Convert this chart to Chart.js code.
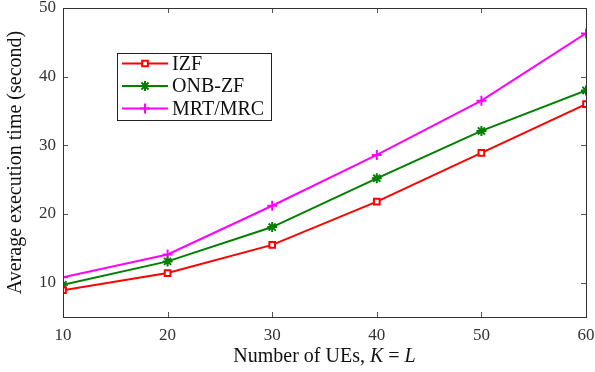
<!DOCTYPE html>
<html>
<head>
<meta charset="utf-8">
<script src="https://cdn.jsdelivr.net/npm/chart.js@4.4.1/dist/chart.umd.min.js"></script>
<style>
  html, body { margin: 0; padding: 0; background: #fff; }
  #wrap { width: 595px; height: 372px; }
</style>
</head>
<body>
<div id="wrap"><canvas id="timeChart"></canvas></div>
<script>
// Data
const users = [10, 20, 30, 40, 50, 60];
const izf = [8.9, 11.4, 15.5, 21.8, 28.9, 36.0];
const onbZf = [9.7, 13.1, 18.1, 25.2, 32.1, 38.0];
const mrtMrc = [10.8, 14.1, 21.2, 28.6, 36.5, 46.3];
const yTicks = [10, 20, 30, 40, 50];

const serif = "'Liberation Serif', 'DejaVu Serif', serif";

const toPoints = arr => arr.map((v, i) => ({ x: users[i], y: v }));

// inward ticks on all four sides + frame
const frameTicks = {
    id: "frameTicks",
    afterDraw(chart) {
        const { ctx, chartArea: a, scales } = chart;
        ctx.save();
        ctx.strokeStyle = "#555";
        ctx.lineWidth = 1;
        ctx.beginPath();
        users.forEach(v => {
            const x = Math.round(scales.x.getPixelForValue(v)) + 0.5;
            ctx.moveTo(x, a.bottom); ctx.lineTo(x, a.bottom - 5);
            ctx.moveTo(x, a.top); ctx.lineTo(x, a.top + 5);
        });
        yTicks.forEach(v => {
            const y = Math.round(scales.y.getPixelForValue(v)) + 0.5;
            ctx.moveTo(a.left, y); ctx.lineTo(a.left + 5, y);
            ctx.moveTo(a.right, y); ctx.lineTo(a.right - 5, y);
        });
        ctx.stroke();
        ctx.strokeStyle = "#333";
        ctx.strokeRect(a.left + 0.5, a.top + 0.5, a.right - a.left, a.bottom - a.top);

        // x axis title with italic K and L
        ctx.fillStyle = "#111";
        ctx.textBaseline = "alphabetic";
        const parts = [
            ["Number of UEs, ", "20px " + serif],
            ["K", "italic 20px " + serif],
            [" = ", "20px " + serif],
            ["L", "italic 20px " + serif]
        ];
        let total = 0;
        parts.forEach(p => { ctx.font = p[1]; total += ctx.measureText(p[0]).width; });
        let x = (a.left + a.right) / 2 - total / 2;
        parts.forEach(p => {
            ctx.font = p[1];
            ctx.fillText(p[0], x, 362);
            x += ctx.measureText(p[0]).width;
        });
        ctx.restore();
    }
};

// boxed legend inside the plot
const boxLegend = {
    id: "boxLegend",
    afterDatasetsDraw(chart) {
        const { ctx } = chart;
        const left = 117, top = 53, w = 154, h = 67;
        ctx.save();
        ctx.fillStyle = "#fff";
        ctx.fillRect(left, top, w, h);
        ctx.strokeStyle = "#222";
        ctx.lineWidth = 1;
        ctx.strokeRect(left + 0.5, top + 0.5, w, h);
        chart.data.datasets.forEach((ds, i) => {
            const y = top + 10.5 + i * 22.5;
            ctx.strokeStyle = ds.borderColor;
            ctx.lineWidth = 2;
            ctx.beginPath();
            ctx.moveTo(122, y); ctx.lineTo(168, y);
            ctx.stroke();
            Chart.helpers.drawPoint(ctx, {
                pointStyle: ds.pointStyle,
                radius: ds.pointRadius,
                rotation: 0,
                borderWidth: ds.pointBorderWidth
            }, 145, y);
            ctx.fillStyle = "#111";
            ctx.font = "20px " + serif;
            ctx.textBaseline = "middle";
            ctx.fillText(ds.label, 172, y + 1);
        });
        ctx.restore();
    }
};

const mkSet = (label, data, color, style) => ({
    label: label,
    data: toPoints(data),
    borderColor: color,
    backgroundColor: "#fff",
    pointBackgroundColor: "#fff",
    pointBorderColor: color,
    borderWidth: 2,
    pointBorderWidth: 2,
    pointStyle: style,
    pointRadius: style === "rect" ? 4 : 5,
    tension: 0
});

const ctx = document.getElementById("timeChart").getContext("2d");
new Chart(ctx, {
    type: "line",
    data: {
        datasets: [
            mkSet("IZF", izf, "#ff0000", "rect"),
            mkSet("ONB-ZF", onbZf, "#007f00", "star"),
            mkSet("MRT/MRC", mrtMrc, "#ff00ff", "cross")
        ]
    },
    options: {
        responsive: true,
        maintainAspectRatio: false,
        animation: false,
        layout: { padding: { top: 8, right: 9, left: 0, bottom: 0 } },
        plugins: { legend: { display: false }, tooltip: { enabled: false } },
        scales: {
            x: {
                type: "linear",
                min: 10, max: 60,
                afterFit(s) { s.height = 55; s.paddingLeft = 0; s.paddingRight = 0; },
                afterBuildTicks(s) { s.ticks = users.map(v => ({ value: v })); },
                grid: { drawOnChartArea: false, drawTicks: false },
                border: { color: "#333" },
                ticks: { padding: 8, color: "#333", font: { family: serif, size: 17 } }
            },
            y: {
                min: 5, max: 50,
                afterFit(s) { s.width = 63; s.paddingTop = 0; s.paddingBottom = 0; },
                afterBuildTicks(s) { s.ticks = yTicks.map(v => ({ value: v })); },
                grid: { drawOnChartArea: false, drawTicks: false },
                border: { color: "#333" },
                ticks: { padding: 7, color: "#333", font: { family: serif, size: 17 } },
                title: {
                    display: true,
                    text: "Average execution time (second)",
                    color: "#111",
                    padding: { top: 4, bottom: 2 },
                    font: { family: serif, size: 20 }
                }
            }
        }
    },
    plugins: [frameTicks, boxLegend]
});
</script>
</body>
</html>
